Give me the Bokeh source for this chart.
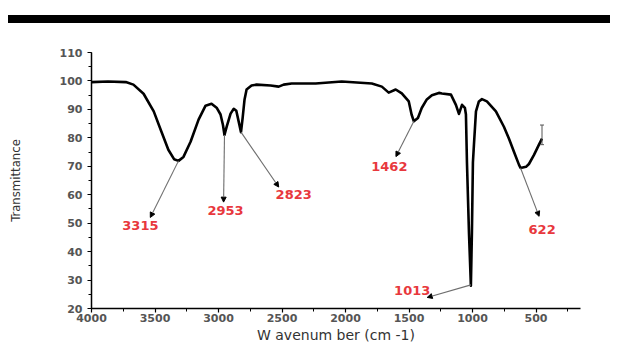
from bokeh.plotting import figure
from bokeh.models import (Range1d, SingleIntervalTicker, Arrow, NormalHead, Div, Spacer,
                          ColumnDataSource, LabelSet)
from bokeh.core.properties import value
from bokeh.layouts import column
from bokeh.embed import file_html
from bokeh.resources import INLINE

# FTIR spectrum (wavenumber cm-1, transmittance %)
wavenumber = [4000, 3870, 3730, 3670, 3590, 3510, 3450, 3395, 3350, 3315, 3276, 3220, 3157,
              3102, 3055, 3015, 2984, 2965, 2953, 2935, 2905, 2880, 2860, 2845, 2823, 2810,
              2795, 2779, 2740, 2700, 2590, 2526, 2487, 2424, 2235, 2030, 1793, 1714, 1660,
              1605, 1557, 1502, 1480, 1462, 1430, 1400, 1360, 1320, 1265, 1241, 1170, 1131,
              1107, 1083, 1060, 1052, 1044, 1028, 1013, 1005, 997, 989, 973, 950, 926, 887,
              816, 753, 713, 674, 634, 622, 579, 556, 516, 477, 453]
transmittance = [99.6, 99.8, 99.6, 98.7, 95.5, 89.3, 82.2, 75.8, 72.5, 71.9, 73.3, 78.6, 86.4,
                 91.3, 92.0, 90.6, 88.2, 84.5, 81.0, 84.0, 88.5, 90.2, 89.5, 86.5, 82.0, 87.0,
                 93.5, 97.0, 98.4, 98.7, 98.4, 98.0, 98.7, 99.1, 99.1, 99.8, 99.1, 98.0, 95.9,
                 97.0, 95.6, 92.8, 88.2, 85.8, 87.0, 90.5, 93.5, 95.0, 95.8, 95.6, 95.2, 91.6,
                 88.4, 91.6, 90.5, 88.2, 71.4, 46.5, 28.0, 46.5, 71.4, 77.5, 89.3, 92.8, 93.6,
                 92.8, 89.3, 83.9, 79.7, 75.1, 70.5, 69.4, 69.8, 70.8, 74.0, 77.6, 79.7]

# Peak annotations
peak_labels = ["3315", "2953", "2823", "1462", "1013", "622"]
peak_x = [3315, 2953, 2823, 1462, 1013, 622]
peak_y = [71.9, 81.0, 82.0, 85.8, 28.3, 69.4]
tip_x = [3537, 2960, 2526, 1603, 1357, 476]
tip_y = [52.0, 57.4, 62.7, 73.4, 23.9, 52.4]
label_x = [3615, 2945, 2408, 1655, 1475, 452]
label_y = [49.2, 54.5, 60.2, 69.8, 26.5, 47.8]

# small end-of-scan marker
end_mark_x = [453]
end_mark_lo = [77.6]
end_mark_hi = [84.5]

p = figure(width=610, height=322, output_backend="svg", toolbar_location=None,
           x_range=Range1d(4000, 150), y_range=Range1d(20, 110),
           min_border_left=91, min_border_right=30, min_border_top=29, min_border_bottom=36,
           margin=(0, 0, 0, 0))
p.outline_line_color = None
p.xgrid.visible = False
p.ygrid.visible = False
p.background_fill_color = "white"

p.line(wavenumber, transmittance, line_color="black", line_width=2.6, line_join="round")

p.segment(x0=end_mark_x, y0=end_mark_lo, x1=end_mark_x, y1=end_mark_hi,
          line_color="#555555", line_width=1)
p.scatter(end_mark_x + end_mark_x, end_mark_lo + end_mark_hi, marker="dash", size=4,
          line_color="#555555")

for x0, y0, x1, y1 in zip(peak_x, peak_y, tip_x, tip_y):
    p.add_layout(Arrow(x_start=x0, y_start=y0, x_end=x1, y_end=y1,
                       line_color="#6e6e6e", line_width=1.1,
                       end=NormalHead(size=5, fill_color="black", line_color="black")))

src = ColumnDataSource(dict(x=label_x, y=label_y, t=peak_labels))
p.add_layout(LabelSet(x="x", y="y", text="t", source=src, text_align="center",
                      text_baseline="middle", text_color="#e8383d",
                      text_font_size=value("13px"),
                      text_font=value("DejaVu Sans"), text_font_style=value("bold")))

for ax in (p.xaxis[0], p.yaxis[0]):
    ax.axis_line_color = "black"
    ax.axis_line_width = 1.5
    ax.major_tick_line_color = "black"
    ax.minor_tick_line_color = "black"
    ax.major_tick_line_width = 1.2
    ax.major_tick_in = 0
    ax.major_tick_out = 4
    ax.minor_tick_in = 0
    ax.minor_tick_out = 3
    ax.major_label_text_font = "DejaVu Sans"
    ax.major_label_text_font_style = "bold"
    ax.major_label_text_font_size = "11px"
    ax.major_label_text_color = "#555555"
    ax.axis_label_text_font_style = "normal"
    ax.axis_label_text_color = "#333333"

p.xaxis.ticker = SingleIntervalTicker(interval=500, num_minor_ticks=2)
p.yaxis.ticker = SingleIntervalTicker(interval=10, num_minor_ticks=2)
p.xaxis.major_label_standoff = 1
p.yaxis.major_label_standoff = 5
p.xaxis.axis_label = "W avenum ber (cm -1)"
p.xaxis.axis_label_text_font = "DejaVu Sans"
p.xaxis.axis_label_text_font_size = "14px"
p.xaxis.axis_label_standoff = 2
p.yaxis.axis_label = "Transmittance"
p.yaxis.axis_label_text_font = "'Liberation Sans Narrow', 'DejaVu Sans Condensed', sans-serif"
p.yaxis.axis_label_text_font_size = "13px"
p.yaxis.axis_label_standoff = 34

bar = Div(text="", width=602, height=8, margin=(0, 0, 0, 8),
          styles={"background-color": "black"})
layout = column(Spacer(width=610, height=15, margin=(0, 0, 0, 0)), bar, p, spacing=0)

open("out.html", "w").write(file_html(layout, INLINE))
